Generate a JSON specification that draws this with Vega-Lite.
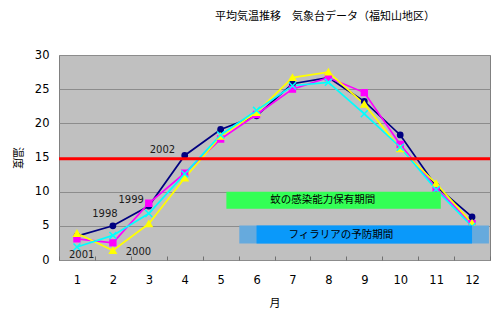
{
  "$schema": "https://vega.github.io/schema/vega-lite/v6.json",
  "autosize": {"type": "none"},
  "width": 431,
  "height": 205,
  "padding": {"left": 59, "top": 55, "right": 9, "bottom": 62},
  "background": "white",
  "title": {
    "text": "平均気温推移　気象台データ（福知山地区）",
    "font": "Noto Sans CJK JP",
    "fontSize": 11,
    "fontWeight": "normal",
    "color": "#000000",
    "anchor": "start",
    "frame": "group",
    "dx": 156,
    "offset": 27
  },
  "config": {
    "view": {"fill": "#C0C0C0", "stroke": "#808080", "strokeWidth": 1},
    "axis": {"labelFont": "DejaVu Sans", "labelFontSize": 11.5, "labelColor": "#000000", "titleFont": "Noto Sans CJK JP", "titleFontSize": 11, "titleFontWeight": "normal", "titleColor": "#000000"}
  },
  "data": {
    "values": [
      {"month": 1, "series": "1998", "temp": 3.5},
      {"month": 2, "series": "1998", "temp": 5.0},
      {"month": 3, "series": "1998", "temp": 7.9},
      {"month": 4, "series": "1998", "temp": 15.3},
      {"month": 5, "series": "1998", "temp": 19.1},
      {"month": 6, "series": "1998", "temp": 21.1},
      {"month": 7, "series": "1998", "temp": 25.8},
      {"month": 8, "series": "1998", "temp": 26.7},
      {"month": 9, "series": "1998", "temp": 23.2},
      {"month": 10, "series": "1998", "temp": 18.3},
      {"month": 11, "series": "1998", "temp": 10.8},
      {"month": 12, "series": "1998", "temp": 6.3},
      {"month": 1, "series": "1999", "temp": 3.1},
      {"month": 2, "series": "1999", "temp": 2.5},
      {"month": 3, "series": "1999", "temp": 8.3},
      {"month": 4, "series": "1999", "temp": 12.7},
      {"month": 5, "series": "1999", "temp": 17.7},
      {"month": 6, "series": "1999", "temp": 21.3},
      {"month": 7, "series": "1999", "temp": 25.0},
      {"month": 8, "series": "1999", "temp": 26.7},
      {"month": 9, "series": "1999", "temp": 24.5},
      {"month": 10, "series": "1999", "temp": 16.9},
      {"month": 11, "series": "1999", "temp": 10.5},
      {"month": 12, "series": "1999", "temp": 5.3},
      {"month": 1, "series": "2000", "temp": 3.9},
      {"month": 2, "series": "2000", "temp": 1.4},
      {"month": 3, "series": "2000", "temp": 5.3},
      {"month": 4, "series": "2000", "temp": 12.0},
      {"month": 5, "series": "2000", "temp": 18.1},
      {"month": 6, "series": "2000", "temp": 21.6},
      {"month": 7, "series": "2000", "temp": 26.7},
      {"month": 8, "series": "2000", "temp": 27.5},
      {"month": 9, "series": "2000", "temp": 22.8},
      {"month": 10, "series": "2000", "temp": 16.3},
      {"month": 11, "series": "2000", "temp": 11.2},
      {"month": 12, "series": "2000", "temp": 5.4},
      {"month": 1, "series": "2001", "temp": 1.9},
      {"month": 2, "series": "2001", "temp": 3.6},
      {"month": 3, "series": "2001", "temp": 6.8},
      {"month": 4, "series": "2001", "temp": 12.6},
      {"month": 5, "series": "2001", "temp": 18.3},
      {"month": 6, "series": "2001", "temp": 21.9},
      {"month": 7, "series": "2001", "temp": 25.5},
      {"month": 8, "series": "2001", "temp": 26.0},
      {"month": 9, "series": "2001", "temp": 21.4},
      {"month": 10, "series": "2001", "temp": 16.5},
      {"month": 11, "series": "2001", "temp": 10.3},
      {"month": 12, "series": "2001", "temp": 4.9}
    ]
  },
  "encoding": {
    "x": {
      "field": "month",
      "type": "quantitative",
      "title": "月",
      "scale": {"domain": [0.5, 12.5], "nice": false, "zero": false},
      "axis": {
        "values": [0.5, 1, 1.5, 2, 2.5, 3, 3.5, 4, 4.5, 5, 5.5, 6, 6.5, 7, 7.5, 8, 8.5, 9, 9.5, 10, 10.5, 11, 11.5, 12, 12.5],
        "labelExpr": "datum.value % 1 === 0 ? format(datum.value, 'd') : ''",
        "labelOverlap": false,
        "labelFlush": false,
        "grid": false,
        "domain": false,
        "tickSize": -4,
        "tickColor": "#707070",
        "tickOpacity": {"condition": {"test": "datum.value % 1 === 0", "value": 0}, "value": 1},
        "labelPadding": 18,
        "titlePadding": 12
      }
    },
    "y": {
      "field": "temp",
      "type": "quantitative",
      "title": "温度",
      "scale": {"domain": [0, 30], "nice": false},
      "axis": {
        "values": [0, 5, 10, 15, 20, 25, 30],
        "ticks": false,
        "domain": false,
        "grid": true,
        "gridColor": "#8c8c8c",
        "gridWidth": 1,
        "labelPadding": 10,
        "titleAngle": 90,
        "titlePadding": 23
      }
    }
  },
  "layer": [
    {
      "mark": {"type": "line", "strokeWidth": 1.7},
      "encoding": {
        "stroke": {"field": "series", "type": "nominal", "legend": null, "scale": {"domain": ["1998", "1999", "2000", "2001"], "range": ["#000080", "#FF00FF", "#FFFF00", "#00FFFF"]}},
        "detail": {"field": "series"}
      }
    },
    {
      "mark": {"type": "point", "filled": true, "opacity": 1, "strokeWidth": 1.5},
      "encoding": {
        "shape": {"field": "series", "type": "nominal", "legend": null, "scale": {"domain": ["1998", "1999", "2000", "2001"], "range": ["circle", "square", "triangle-up", "M-1,-1L1,1M-1,1L1,-1"]}},
        "fill": {"field": "series", "type": "nominal", "legend": null, "scale": {"domain": ["1998", "1999", "2000", "2001"], "range": ["#000080", "#FF00FF", "#FFFF00", "#00FFFF"]}},
        "stroke": {"field": "series", "type": "nominal", "legend": null},
        "size": {"field": "series", "type": "nominal", "legend": null, "scale": {"domain": ["1998", "1999", "2000", "2001"], "range": [28, 48, 55, 45]}}
      }
    },
    {
      "data": {"values": [{"threshold": 14.8}]},
      "mark": {"type": "rule", "color": "#FF0000", "strokeWidth": 3},
      "encoding": {"y": {"field": "threshold", "type": "quantitative"}, "x": null}
    },
    {
      "data": {"values": [{"start": 5.16, "end": 11.13, "low": 7.5, "high": 10.0, "label": "蚊の感染能力保有期間", "lx": 7.84, "ly": 8.8}]},
      "layer": [
        {
          "mark": {"type": "rect", "color": "#33FF55"},
          "encoding": {"x": {"field": "start", "type": "quantitative"}, "x2": {"field": "end"}, "y": {"field": "low", "type": "quantitative"}, "y2": {"field": "high"}}
        },
        {
          "mark": {"type": "text", "font": "Noto Sans CJK JP", "fontSize": 10.5, "color": "#000000", "align": "center", "baseline": "middle"},
          "encoding": {"x": {"field": "lx", "type": "quantitative"}, "y": {"field": "ly", "type": "quantitative"}, "text": {"field": "label"}}
        }
      ]
    },
    {
      "data": {"values": [{"start": 5.52, "end": 12.47, "innerStart": 6.0, "innerEnd": 12.0, "low": 2.41, "high": 5.04, "label": "フィラリアの予防期間", "lx": 8.35, "ly": 3.72}]},
      "layer": [
        {
          "mark": {"type": "rect", "color": "#66AADD"},
          "encoding": {"x": {"field": "start", "type": "quantitative"}, "x2": {"field": "end"}, "y": {"field": "low", "type": "quantitative"}, "y2": {"field": "high"}}
        },
        {
          "mark": {"type": "rect", "color": "#0A99FA"},
          "encoding": {"x": {"field": "innerStart", "type": "quantitative"}, "x2": {"field": "innerEnd"}, "y": {"field": "low", "type": "quantitative"}, "y2": {"field": "high"}}
        },
        {
          "mark": {"type": "text", "font": "Noto Sans CJK JP", "fontSize": 10.5, "color": "#000000", "align": "center", "baseline": "middle"},
          "encoding": {"x": {"field": "lx", "type": "quantitative"}, "y": {"field": "ly", "type": "quantitative"}, "text": {"field": "label"}}
        }
      ]
    },
    {
      "data": {"values": [
        {"label": "2002", "lx": 3.38, "ly": 16.1},
        {"label": "1998", "lx": 1.78, "ly": 6.8},
        {"label": "1999", "lx": 2.51, "ly": 8.8},
        {"label": "2000", "lx": 2.71, "ly": 1.2},
        {"label": "2001", "lx": 1.13, "ly": 0.66}
      ]},
      "mark": {"type": "text", "font": "DejaVu Sans", "fontSize": 10, "color": "#1a1a1a", "align": "center", "baseline": "middle"},
      "encoding": {"x": {"field": "lx", "type": "quantitative"}, "y": {"field": "ly", "type": "quantitative"}, "text": {"field": "label"}}
    }
  ]
}
